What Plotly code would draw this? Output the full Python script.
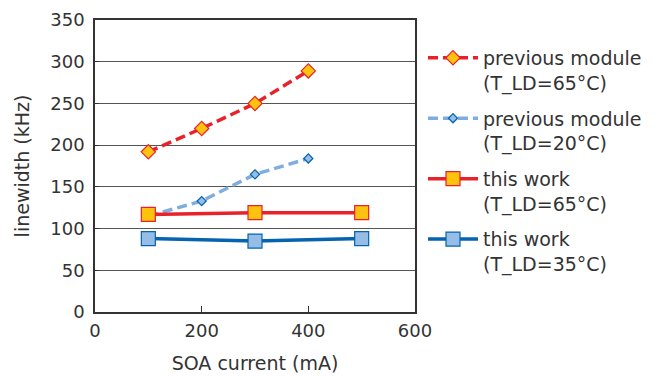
import plotly.graph_objects as go

prev65_x = [100, 200, 300, 400]
prev65_y = [192, 220, 250, 289]
prev20_x = [100, 200, 300, 400]
prev20_y = [115, 133, 165, 184]
work65_x = [100, 300, 500]
work65_y = [117, 119, 119]
work35_x = [100, 300, 500]
work35_y = [88, 85, 88]

names = ["previous module<br>(T_LD=65°C)", "previous module<br>(T_LD=20°C)",
         "this work<br>(T_LD=65°C)", "this work<br>(T_LD=35°C)"]

fig = go.Figure()
fig.add_trace(go.Scatter(x=prev65_x, y=prev65_y, name=names[0], mode="lines+markers",
    line=dict(color="#E8212B", width=3.5, dash="10px,5px"),
    marker=dict(symbol="diamond", size=11, color="#FFC20E", line=dict(color="#E8212B", width=1.2)),
    legendgroup="a"))
fig.add_trace(go.Scatter(x=prev20_x, y=prev20_y, name=names[1], mode="lines+markers",
    line=dict(color="#7EAEDF", width=3.5, dash="10px,5px"),
    marker=dict(symbol="diamond", size=7, color="#95BDE5", line=dict(color="#0563B0", width=1.2)),
    legendgroup="b"))
fig.add_trace(go.Scatter(x=work65_x, y=work65_y, name=names[2], mode="lines+markers",
    line=dict(color="#E8212B", width=3.5),
    marker=dict(symbol="square", size=14, color="#FFC20E", line=dict(color="#E8212B", width=1.2)),
    legendgroup="c"))
fig.add_trace(go.Scatter(x=work35_x, y=work35_y, name=names[3], mode="lines+markers",
    line=dict(color="#0563B0", width=3.5),
    marker=dict(symbol="square", size=14, color="#95BDE5", line=dict(color="#0563B0", width=1.2)),
    legendgroup="d"))

fig.update_layout(
    width=654, height=368,
    margin=dict(l=87, r=247, t=12, b=64, autoexpand=False),
    paper_bgcolor="white", plot_bgcolor="white",
    font=dict(family="DejaVu Sans, sans-serif", size=18, color="#333333"),
    legend=dict(x=1.025, y=0.935, xanchor="left", yanchor="top", valign="top",
                tracegroupgap=8, itemwidth=50,
                font=dict(size=19, color="#333333"), bgcolor="rgba(0,0,0,0)"),
    xaxis=dict(range=[0, 600], tickvals=[0, 200, 400, 600], showgrid=False,
               showline=True, linecolor="#333333", linewidth=1.5, mirror=True,
               ticks="inside", ticklen=6, tickcolor="#333333", zeroline=False,
               automargin=False, tickfont=dict(size=18), ticklabelstandoff=2,
               title=dict(text="SOA current (mA)", standoff=16, font=dict(size=19))),
    yaxis=dict(range=[0, 350], tickvals=list(range(0, 351, 50)), showgrid=True,
               gridcolor="#555555", gridwidth=1,
               showline=True, linecolor="#333333", linewidth=1.5, mirror=True,
               ticks="inside", ticklen=4, tickcolor="#333333", zeroline=False,
               automargin=False, tickfont=dict(size=18), ticklabelstandoff=5,
               title=dict(text="linewidth (kHz)", standoff=16, font=dict(size=19))),
)

fig.write_html("out.html")
